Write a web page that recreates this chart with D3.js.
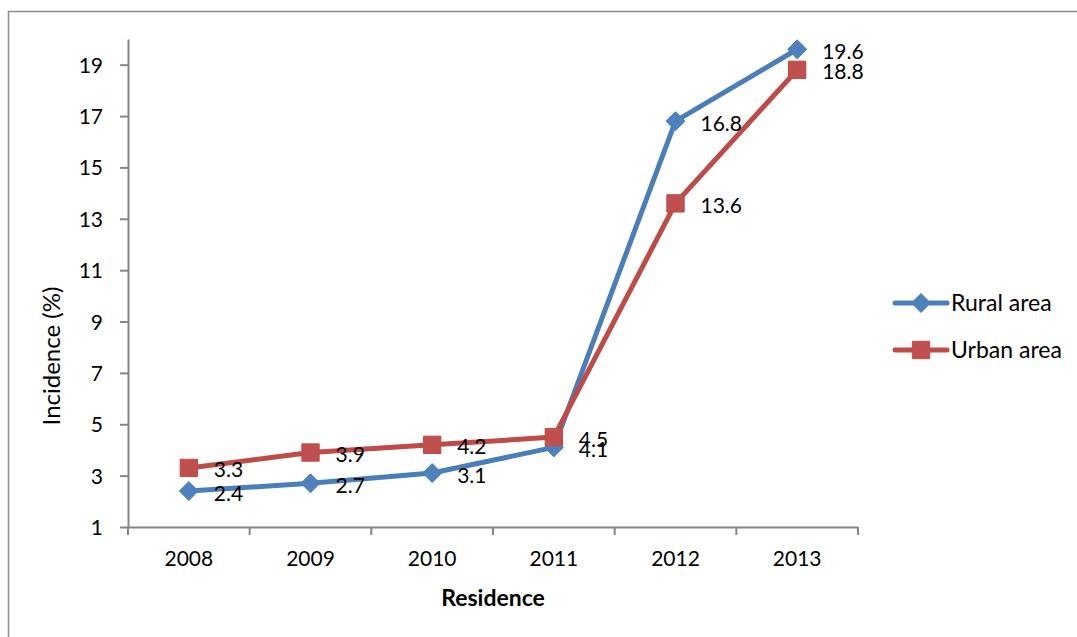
<!DOCTYPE html>
<html lang="en">
  <head>
    <meta charset="utf-8">
    <title>Incidence by residence</title>
    <script src="https://d3js.org/d3.v7.min.js"></script>
    <style>
      body { margin: 0; background: #fff; }
      text { font-family: Lato, "Open Sans", sans-serif; fill: #000; }
    </style>
  </head>
<body>

<script>
var years = ["2008", "2009", "2010", "2011", "2012", "2013"];
var rural = [2.4, 2.7, 3.1, 4.1, 16.8, 19.6];
var urban = [3.3, 3.9, 4.2, 4.5, 13.6, 18.8];
var yTicks = [1, 3, 5, 7, 9, 11, 13, 15, 17, 19];

var series = [
    { name: "Rural area", values: rural, color: "#4a7ebb", fill: "#4f81bd", shape: d3.symbolDiamond2 },
    { name: "Urban area", values: urban, color: "#be4b48", fill: "#c0504d", shape: d3.symbolSquare }
];

var width = 1077, height = 637;
var plotL = 128, plotR = 858, plotT = 39, plotB = 527;

var svg = d3.select("body")
    .append("svg")
    .attr("width", width)
    .attr("height", height);

// outer chart frame
svg.append("rect")
    .attr("x", 8.5)
    .attr("y", 11.5)
    .attr("width", 1200)
    .attr("height", 800)
    .attr("fill", "none")
    .attr("stroke", "#8c8c8c")
    .attr("stroke-width", 1.5);

var x = d3.scaleBand().domain(years).range([plotL, plotR]).padding(0);
var y = d3.scaleLinear().domain([1, 20]).range([plotB, plotT]);
var cx = d => x(d) + x.bandwidth() / 2;

// y axis
var yAxis = svg.append("g")
    .attr("transform", `translate(${plotL},0)`)
    .call(d3.axisLeft(y).tickValues(yTicks).tickSize(8).tickPadding(17).tickSizeOuter(0));
yAxis.select(".domain").attr("stroke", "#868686").attr("stroke-width", 2);
yAxis.selectAll(".tick line").attr("stroke", "#868686").attr("stroke-width", 2);
yAxis.selectAll("text").attr("font-size", 21).attr("dy", "0.36em");

// x axis: labels centred, ticks on category boundaries
var xAxis = svg.append("g")
    .attr("transform", `translate(0,${plotB})`)
    .call(d3.axisBottom(x).tickSize(0).tickPadding(24).tickSizeOuter(0));
xAxis.select(".domain").attr("stroke", "#868686").attr("stroke-width", 2);
xAxis.selectAll("text").attr("font-size", 21);

var edges = years.map(d => x(d)).concat([x(years[years.length - 1]) + x.bandwidth()]);
xAxis.selectAll(".edge")
    .data(edges)
    .join("line")
    .attr("class", "edge")
    .attr("x1", d => d).attr("x2", d => d)
    .attr("y1", 0).attr("y2", 8)
    .attr("stroke", "#868686")
    .attr("stroke-width", 2);

// axis titles
svg.append("text")
    .attr("transform", "translate(60,356) rotate(-90)")
    .attr("text-anchor", "middle")
    .attr("font-size", 24)
    .text("Incidence (%)");

svg.append("text")
    .attr("x", 493)
    .attr("y", 606)
    .attr("text-anchor", "middle")
    .attr("font-size", 23)
    .attr("font-weight", "bold")
    .text("Residence");

// lines and markers
var line = d3.line().x((d, i) => cx(years[i])).y(d => y(d));

series.forEach(s => {
    svg.append("path")
        .attr("d", line(s.values))
        .attr("fill", "none")
        .attr("stroke", s.color)
        .attr("stroke-width", 5)
        .attr("stroke-linejoin", "round");

    svg.selectAll(null)
        .data(s.values)
        .join("path")
        .attr("transform", (d, i) => `translate(${cx(years[i])},${y(d)})`)
        .attr("d", d3.symbol().type(s.shape).size(s.shape === d3.symbolSquare ? 300 : 230))
        .attr("fill", s.fill)
        .attr("stroke", s.color)
        .attr("stroke-width", 1);
});

// data labels
series.forEach(s => {
    svg.selectAll(null)
        .data(s.values)
        .join("text")
        .attr("x", (d, i) => cx(years[i]) + 25)
        .attr("y", d => y(d) + 2)
        .attr("dy", "0.36em")
        .attr("font-size", 21)
        .text(d => d.toFixed(1));
});

// legend
var legend = svg.selectAll(".legend")
    .data(series)
    .join("g")
    .attr("class", "legend")
    .attr("transform", (d, i) => `translate(895,${303 + i * 47})`);

legend.append("line")
    .attr("x1", 0).attr("x2", 52)
    .attr("stroke", d => d.color)
    .attr("stroke-width", 5)
    .attr("stroke-linecap", "round");

legend.append("path")
    .attr("transform", "translate(26,0)")
    .attr("d", d => d3.symbol().type(d.shape).size(d.shape === d3.symbolSquare ? 300 : 230)())
    .attr("fill", d => d.fill)
    .attr("stroke", d => d.color);

legend.append("text")
    .attr("x", 56)
    .attr("dy", "0.36em")
    .attr("font-size", 23)
    .text(d => d.name);
</script>
</body>
</html>
